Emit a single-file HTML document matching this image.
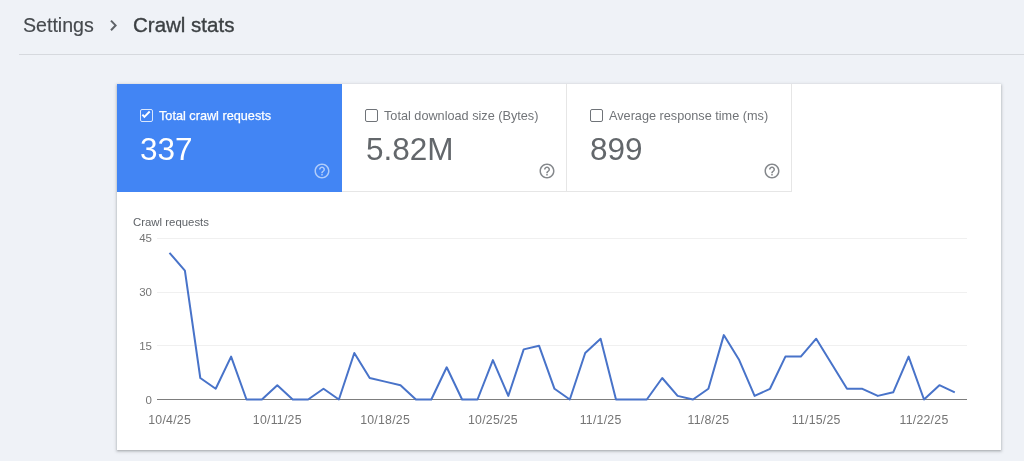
<!DOCTYPE html>
<html><head><meta charset="utf-8">
<style>
html,body{margin:0;padding:0;}
body{width:1024px;height:461px;overflow:hidden;background:#eff2f7;position:relative;font-family:"Liberation Sans",sans-serif;}
.a{position:absolute;white-space:nowrap;line-height:1;}
#settings{left:23px;top:16px;font-size:19.6px;color:#45494d;-webkit-text-stroke:0.15px #45494d;}
#crawl{left:133px;top:15px;font-size:20.5px;color:#3c4043;-webkit-text-stroke:0.35px #3c4043;}
#sep{left:19px;top:54px;width:1005px;height:1px;background:#d6d9de;}
#card{left:117px;top:84px;width:884px;height:366px;background:#fff;box-shadow:0 1px 2px rgba(60,64,67,.30),0 1px 3px 1px rgba(60,64,67,.15);}
.tab{position:absolute;top:84px;width:225px;height:108px;box-sizing:border-box;}
#t1{left:117px;background:#4285f4;}
#t2{left:342px;border-right:1px solid #e6e6e6;border-bottom:1px solid #e6e6e6;}
#t3{left:567px;border-right:1px solid #e6e6e6;border-bottom:1px solid #e6e6e6;}
.cb{position:absolute;left:23px;top:25px;width:13px;height:13px;box-sizing:border-box;border:1.6px solid #6f7378;border-radius:2px;}
#t1 .cb{border-color:rgba(255,255,255,0.8);}
.lbl{position:absolute;left:42px;top:25.6px;font-size:12.7px;color:#717478;white-space:nowrap;line-height:1;}
#t1 .lbl{color:#fff;-webkit-text-stroke:0.25px #fff;}
.num{position:absolute;left:23px;top:50px;font-size:31.5px;color:#63676b;white-space:nowrap;line-height:1;}
#t1 .num{color:#fff;}
#t2 .num{left:24px;}
.help{position:absolute;left:196px;top:78px;}
#chart{position:absolute;left:0;top:0;}
</style></head>
<body><div style="position:absolute;left:0;top:0;width:1024px;height:461px;will-change:transform">
<div class="a" id="settings">Settings</div>
<svg class="a" style="left:0;top:0" width="1024" height="60"><polyline points="111,20.6 115.6,25.4 111,30.2" fill="none" stroke="#5f6368" stroke-width="2"/></svg>
<div class="a" id="crawl">Crawl stats</div>
<div class="a" id="sep"></div>
<div class="a" id="card"></div>
<div class="tab" id="t1">
  <div class="cb"><svg width="13" height="13" style="position:absolute;left:-1.6px;top:-1.6px"><polyline points="3.4,6.6 5.4,8.9 10.7,3.5" fill="none" stroke="#fff" stroke-width="1.9"/></svg></div>
  <div class="lbl">Total crawl requests</div>
  <div class="num">337</div>
  <svg class="help" width="18" height="18" viewBox="0 0 24 24"><path fill="rgba(255,255,255,0.58)" d="M11 18h2v-2h-2v2zm1-16C6.48 2 2 6.48 2 12s4.48 10 10 10 10-4.48 10-10S17.52 2 12 2zm0 18c-4.41 0-8-3.59-8-8s3.59-8 8-8 8 3.59 8 8-3.59 8-8 8zm0-14c-2.21 0-4 1.79-4 4h2c0-1.1.9-2 2-2s2 .9 2 2c0 2-3 1.75-3 5h2c0-2.25 3-2.5 3-5 0-2.21-1.79-4-4-4z"/></svg>
</div>
<div class="tab" id="t2">
  <div class="cb"></div>
  <div class="lbl">Total download size (Bytes)</div>
  <div class="num">5.82M</div>
  <svg class="help" width="18" height="18" viewBox="0 0 24 24"><path fill="#85888c" d="M11 18h2v-2h-2v2zm1-16C6.48 2 2 6.48 2 12s4.48 10 10 10 10-4.48 10-10S17.52 2 12 2zm0 18c-4.41 0-8-3.59-8-8s3.59-8 8-8 8 3.59 8 8-3.59 8-8 8zm0-14c-2.21 0-4 1.79-4 4h2c0-1.1.9-2 2-2s2 .9 2 2c0 2-3 1.75-3 5h2c0-2.25 3-2.5 3-5 0-2.21-1.79-4-4-4z"/></svg>
</div>
<div class="tab" id="t3">
  <div class="cb"></div>
  <div class="lbl">Average response time (ms)</div>
  <div class="num">899</div>
  <svg class="help" width="18" height="18" viewBox="0 0 24 24"><path fill="#85888c" d="M11 18h2v-2h-2v2zm1-16C6.48 2 2 6.48 2 12s4.48 10 10 10 10-4.48 10-10S17.52 2 12 2zm0 18c-4.41 0-8-3.59-8-8s3.59-8 8-8 8 3.59 8 8-3.59 8-8 8zm0-14c-2.21 0-4 1.79-4 4h2c0-1.1.9-2 2-2s2 .9 2 2c0 2-3 1.75-3 5h2c0-2.25 3-2.5 3-5 0-2.21-1.79-4-4-4z"/></svg>
</div>
<svg id="chart" width="1024" height="461" style="position:absolute;left:0;top:0" font-family="Liberation Sans, sans-serif">
  <text x="133" y="225.6" font-size="11.4" fill="#5f6368">Crawl requests</text>
  <g stroke="#f0f0f0" stroke-width="1">
    <line x1="157" y1="238.5" x2="967" y2="238.5"/>
    <line x1="157" y1="292.5" x2="967" y2="292.5"/>
    <line x1="157" y1="345.5" x2="967" y2="345.5"/>
  </g>
  <line x1="157" y1="399.5" x2="967" y2="399.5" stroke="#7d7d7d" stroke-width="1"/>
  <g font-size="11.5" fill="#757575" text-anchor="end">
    <text x="152" y="242">45</text>
    <text x="152" y="296">30</text>
    <text x="152" y="350">15</text>
    <text x="152" y="404">0</text>
  </g>
  <polyline fill="none" stroke="#4873c9" stroke-width="2" stroke-linejoin="round" points="169.5,252.8 184.9,270.7 200.3,378.0 215.7,388.8 231.1,356.6 246.5,399.5 261.9,399.5 277.3,385.2 292.7,399.5 308.1,399.5 323.5,388.8 338.9,399.5 354.3,353.0 369.7,378.0 385.1,381.6 400.5,385.2 415.9,399.5 431.3,399.5 446.7,367.3 462.1,399.5 477.5,399.5 492.9,360.1 508.3,395.9 523.7,349.4 539.1,345.8 554.5,388.8 569.8,399.5 585.2,353.0 600.6,338.7 616.0,399.5 631.4,399.5 646.8,399.5 662.2,378.0 677.6,395.9 693.0,399.5 708.4,388.8 723.8,335.1 739.2,360.1 754.6,395.9 770.0,388.8 785.4,356.6 800.8,356.6 816.2,338.7 831.6,363.7 847.0,388.8 862.4,388.8 877.8,395.9 893.2,392.3 908.6,356.6 924.0,399.5 939.4,385.2 954.8,392.3"/>
  <g font-size="12.3" fill="#757575" text-anchor="middle" letter-spacing="0.25">
    <text x="169.6" y="424">10/4/25</text>
    <text x="277.3" y="424">10/11/25</text>
    <text x="385.1" y="424">10/18/25</text>
    <text x="492.9" y="424">10/25/25</text>
    <text x="600.6" y="424">11/1/25</text>
    <text x="708.4" y="424">11/8/25</text>
    <text x="816.2" y="424">11/15/25</text>
    <text x="924.0" y="424">11/22/25</text>
  </g>
</svg>
</div></body></html>
